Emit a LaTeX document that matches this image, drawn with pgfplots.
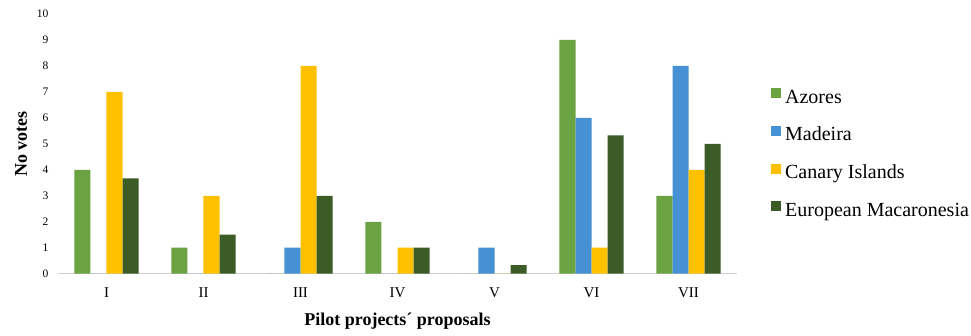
\documentclass[border=0pt]{standalone}
\usepackage{fontspec}
\setmainfont{Liberation Serif}
\usepackage{pgfplots}
\pgfplotsset{compat=1.18}
\definecolor{cAz}{HTML}{6BA242}
\definecolor{cMa}{HTML}{4591D3}
\definecolor{cCa}{HTML}{FFC000}
\definecolor{cEu}{HTML}{3B5C26}
\begin{document}
\begin{tikzpicture}
\begin{axis}[
  scale only axis, width=679pt, height=259.7pt,
  at={(0pt,0pt)}, anchor=south west,
  ybar=0pt, bar width=16pt,
  xmin=-0.5, xmax=6.5, ymin=0, ymax=10,
  xtick={0,...,6}, xticklabels={I,II,III,IV,V,VI,VII},
  ytick={0,...,10}, yticklabels={0,1,2,3,4,5,6,7,8,9,10},
  major tick length=0pt,
  axis x line*=bottom, axis y line*=left,
  y axis line style={draw=none},
  x axis line style={-, draw=black!18, line width=1.2pt},
  yticklabel style={font=\fontsize{11.5}{13}\selectfont, xshift=-6pt},
  xticklabel style={font=\fontsize{15}{18}\selectfont, yshift=-10pt},
  xlabel={Pilot projects´ proposals},
  ylabel={No votes},
  label style={font=\bfseries\fontsize{18}{20}\selectfont},
  xlabel style={yshift=-9pt},
  ylabel style={yshift=3pt},
  legend style={draw=none, at={(1.05,0.462)}, anchor=west,
    font=\fontsize{20}{23}\selectfont, row sep=18.5pt, inner sep=0pt,
    nodes={inner xsep=4pt}},
  legend cell align=left,
  legend image code/.code={\fill[#1] (0pt,-1pt) rectangle (10pt,9pt);},
]
\addplot[fill=cAz, draw=none] coordinates {(0,4) (1,1) (2,0) (3,2) (4,0) (5,9) (6,3)};
\addplot[fill=cMa, draw=none] coordinates {(0,0) (1,0) (2,1) (3,0) (4,1) (5,6) (6,8)};
\addplot[fill=cCa, draw=none] coordinates {(0,7) (1,3) (2,8) (3,1) (4,0) (5,1) (6,4)};
\addplot[fill=cEu, draw=none] coordinates {(0,3.67) (1,1.5) (2,3) (3,1) (4,0.33) (5,5.33) (6,5)};
\legend{Azores, Madeira, Canary Islands, European Macaronesia}
\end{axis}
\pgfresetboundingbox
\path[use as bounding box] (-58pt,-61.3pt) rectangle (913pt,273.7pt);
\end{tikzpicture}
\end{document}
